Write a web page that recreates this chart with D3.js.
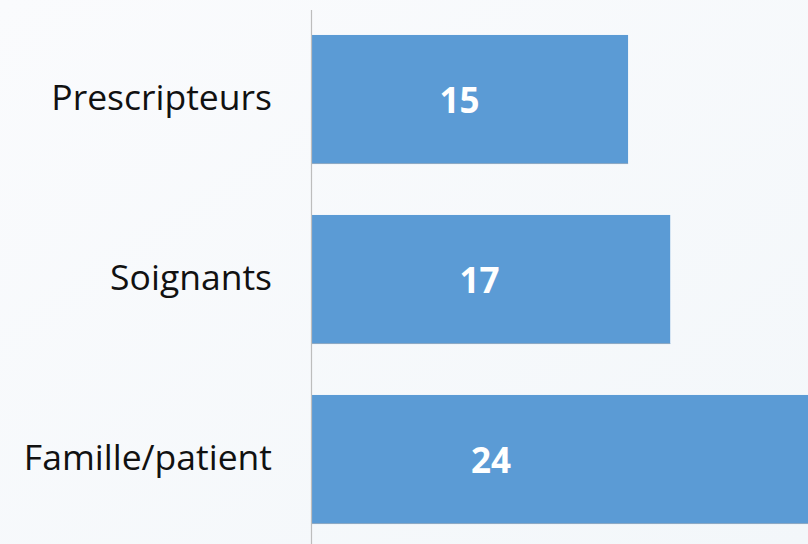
<!DOCTYPE html>
<html>
<head>
<meta charset="utf-8">
<script src="https://cdn.jsdelivr.net/npm/d3@7"></script>
<style>
  html, body { margin: 0; padding: 0; background: #f6f9fb; }
  svg { display: block; }
</style>
</head>
<body>
<div id="chart"></div>
<script>
// data
var categories = ["Prescripteurs", "Soignants", "Famille/patient"];
var values = [15, 17, 24];
// where the value labels sit, in value units
var labelAt = [7.0, 7.95, 8.5];

var width = 808, height = 544;

var svg = d3.select("#chart").append("svg")
    .attr("width", width)
    .attr("height", height);

// soft background
var defs = svg.append("defs");
var grad = defs.append("linearGradient")
    .attr("id", "bg")
    .attr("x1", "0").attr("y1", "0").attr("x2", "1").attr("y2", "1");
grad.append("stop").attr("offset", "0%").attr("stop-color", "#fafbfd");
grad.append("stop").attr("offset", "100%").attr("stop-color", "#f3f7fa");
svg.append("rect")
    .attr("width", width).attr("height", height)
    .attr("fill", "url(#bg)");

// scales
var x = d3.scaleLinear().domain([0, 23.54]).range([312, 808]);
var y = d3.scaleBand()
    .domain(categories)
    .range([9.5, 549.5])
    .paddingInner(0.283)
    .paddingOuter(0.1415);

var rows = categories.map(function(c, i) {
  return { cat: c, value: values[i], lab: labelAt[i] };
});

// bars
svg.selectAll(".bar")
    .data(rows)
  .enter().append("rect")
    .attr("class", "bar")
    .attr("x", x(0))
    .attr("y", function(d) { return y(d.cat); })
    .attr("width", function(d) { return x(d.value) - x(0); })
    .attr("height", y.bandwidth())
    .attr("fill", "#5b9bd5");

// thin shade at the bottom of each bar
svg.selectAll(".edge")
    .data(rows)
  .enter().append("line")
    .attr("x1", x(0))
    .attr("x2", function(d) { return x(d.value); })
    .attr("y1", function(d) { return y(d.cat) + y.bandwidth() - 0.5; })
    .attr("y2", function(d) { return y(d.cat) + y.bandwidth() - 0.5; })
    .attr("stroke", "#8fa9c4")
    .attr("stroke-width", 1);

// vertical axis line
svg.append("line")
    .attr("x1", x(0) - 0.5).attr("x2", x(0) - 0.5)
    .attr("y1", 10).attr("y2", height)
    .attr("stroke", "#bdbdbd")
    .attr("stroke-width", 1.2);

// category labels
svg.selectAll(".cat")
    .data(rows)
  .enter().append("text")
    .attr("class", "cat")
    .attr("x", 272)
    .attr("y", function(d) { return y(d.cat) + y.bandwidth() / 2 + 10.5; })
    .attr("text-anchor", "end")
    .style("font-family", "'Open Sans', 'Noto Sans', sans-serif")
    .style("font-size", "35.5px")
    .style("fill", "#111")
    .text(function(d) { return d.cat; });

// value labels
svg.selectAll(".val")
    .data(rows)
  .enter().append("text")
    .attr("class", "val")
    .attr("x", function(d) { return x(d.lab); })
    .attr("y", function(d) { return y(d.cat) + y.bandwidth() / 2 + 13.5; })
    .attr("text-anchor", "middle")
    .style("font-family", "'Open Sans', 'Noto Sans', sans-serif")
    .style("font-weight", "bold")
    .style("font-size", "35px")
    .style("fill", "#fff")
    .text(function(d) { return d.value; });
</script>
</body>
</html>
